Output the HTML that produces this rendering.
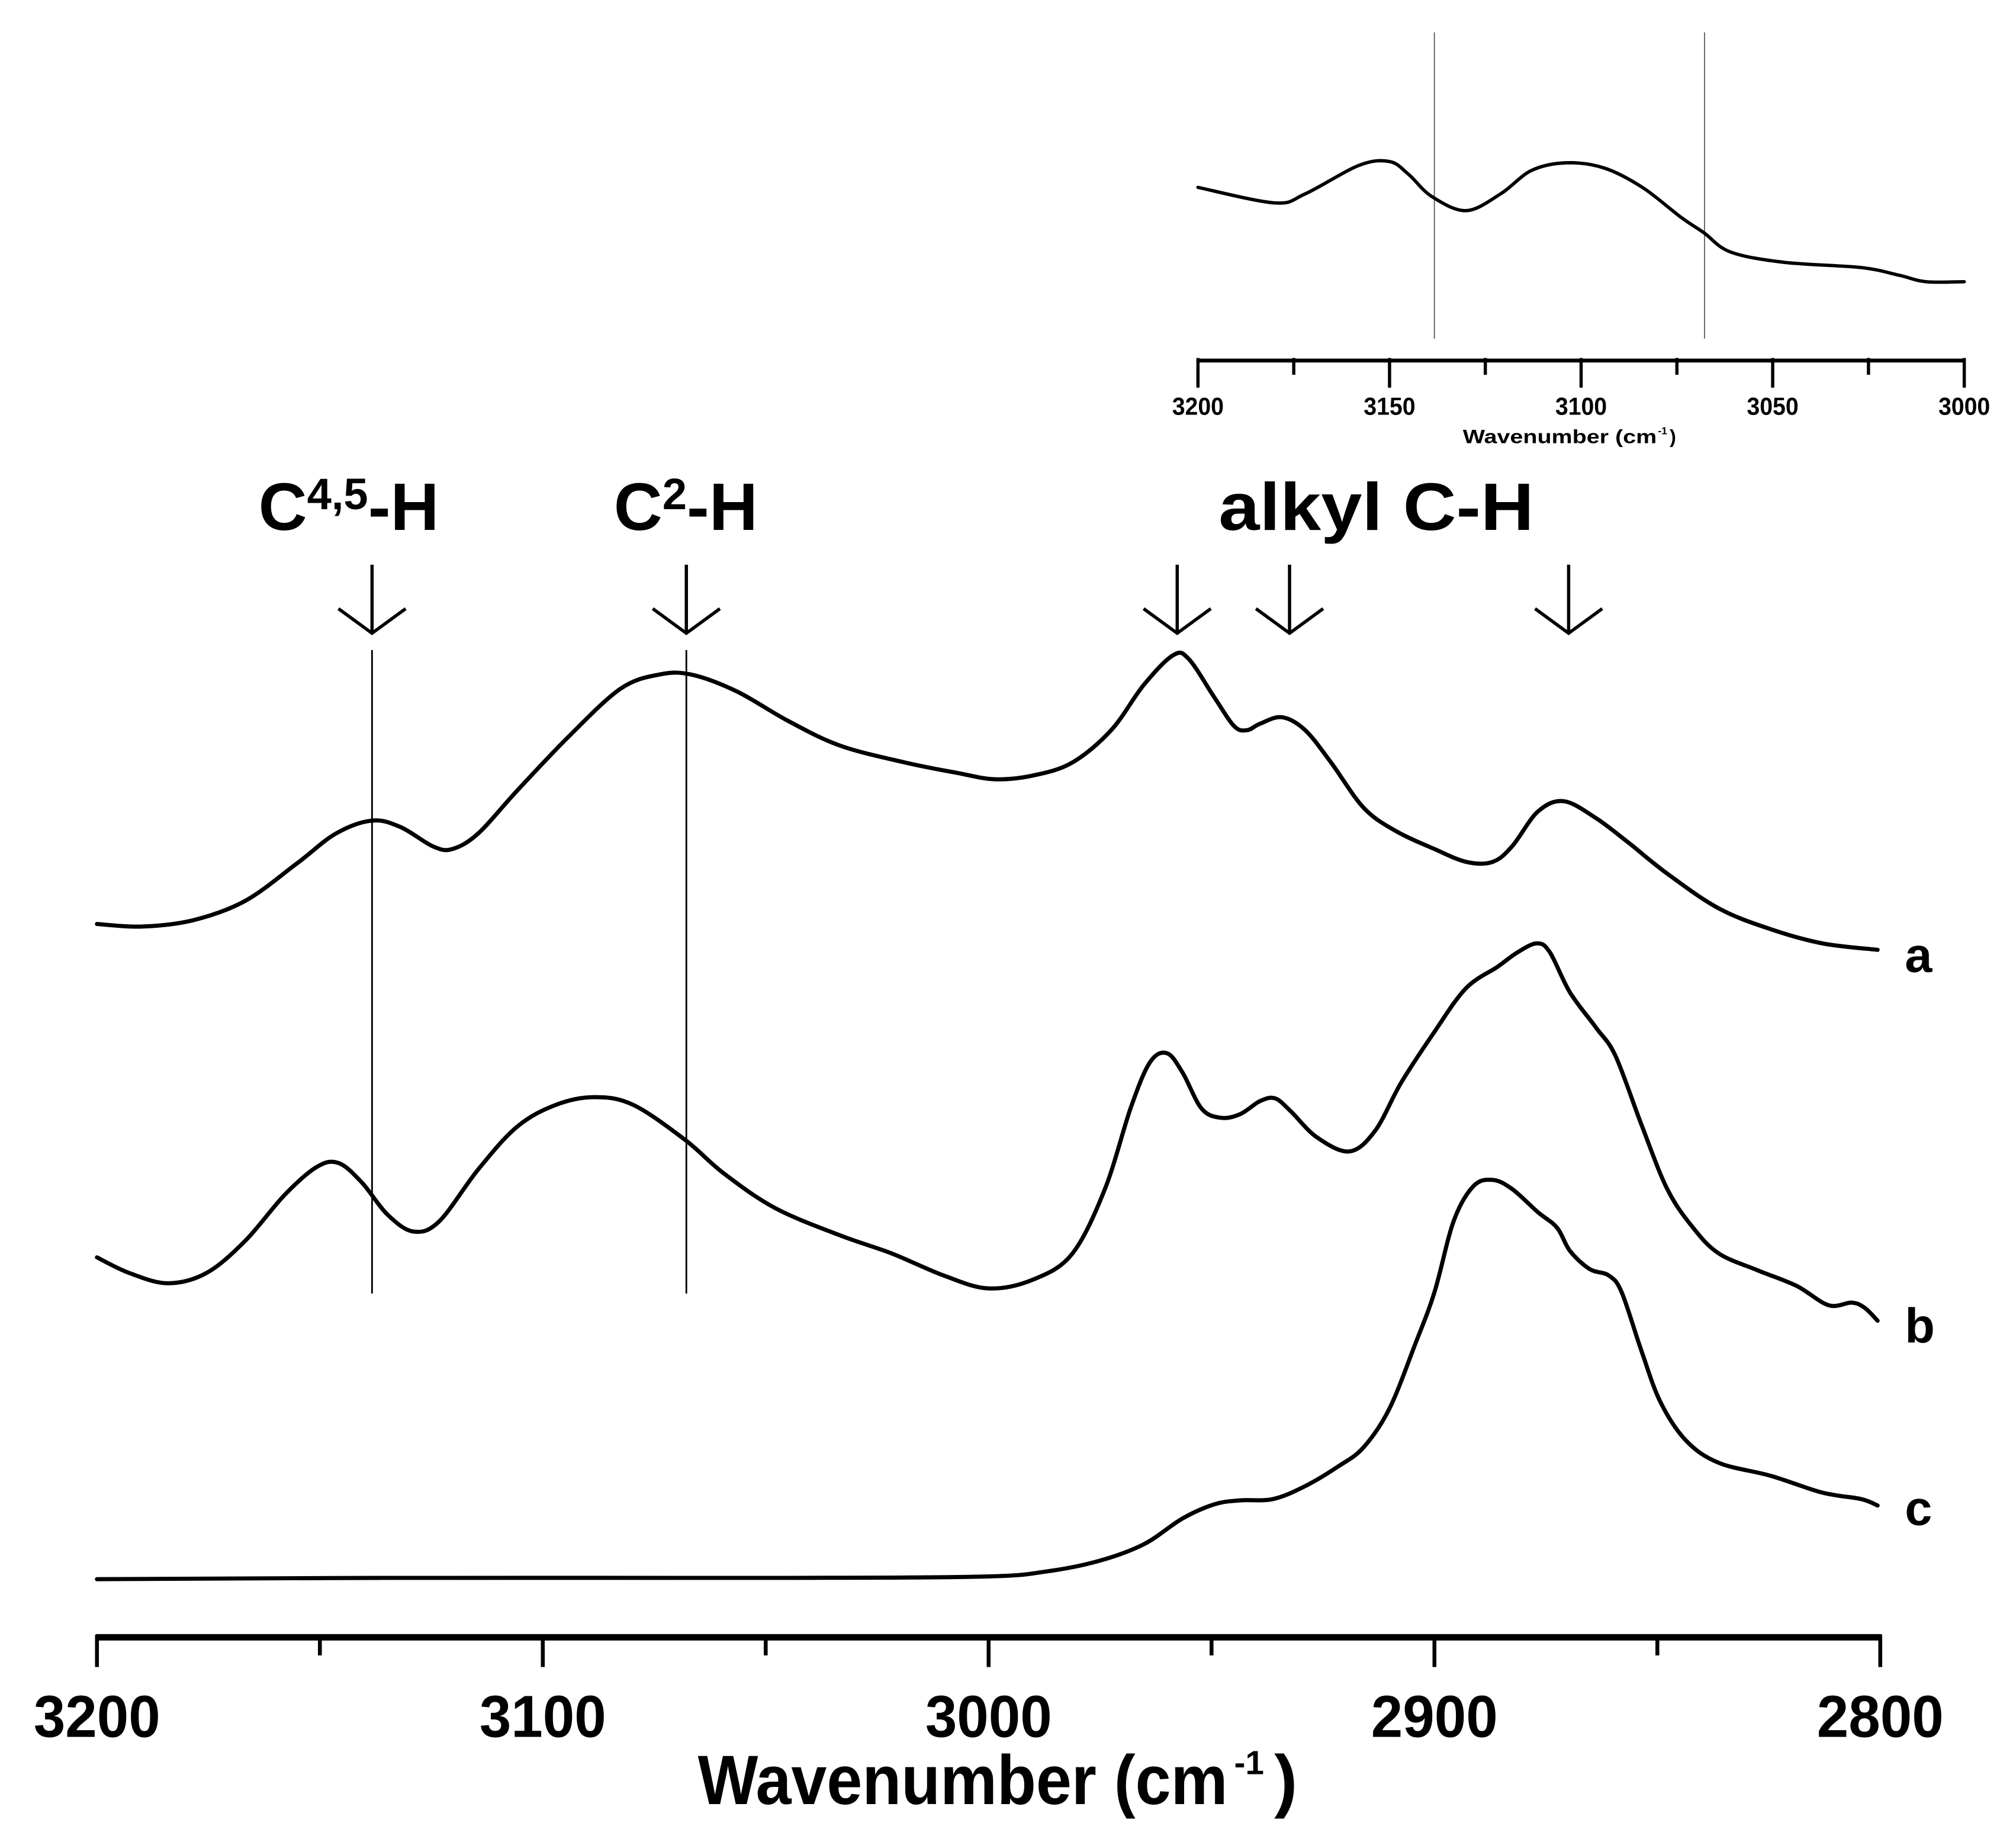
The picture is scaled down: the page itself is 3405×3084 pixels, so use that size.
<!DOCTYPE html>
<html><head><meta charset="utf-8">
<style>
html,body{margin:0;padding:0;background:#fff;}
svg{display:block;}
text{font-family:"Liberation Sans Narrow","Liberation Sans",sans-serif;font-weight:bold;fill:#000;}
</style></head>
<body>
<svg id="chart" xmlns="http://www.w3.org/2000/svg" width="3405" height="3084" viewBox="0 0 1560 1413">
<rect width="1560" height="1413" fill="#fff"/>
<g id="main"></g>
<g id="inset"></g>
</svg>
<script>
// ---- Main chart data (wavenumber, absorbance in arbitrary units) ----
const mainTicks = [3200, 3100, 3000, 2900, 2800];
const mainMinorTicks = [3150, 3050, 2950, 2850];
const aWn = [3200,3189.9,3178.3,3166.7,3155.1,3146.4,3138.3,3131.9,3124.6,3120.3,3114.5,3105.8,3094.2,3082.6,3073.9,3066.7,3056.5,3044.9,3033.3,3018.8,3007.2,2998.6,2989.9,2981.2,2972.5,2965.2,2958.6,2955.1,2949.3,2944.9,2942,2939.1,2934.2,2929,2923.2,2915.9,2908.7,2900,2892.8,2887,2882.6,2876.8,2871,2863.8,2856.5,2847.8,2836.2,2824.6,2813,2800.6];
const aVal = [5.50,5.48,5.53,5.68,5.97,6.20,6.30,6.25,6.10,6.08,6.20,6.53,6.95,7.32,7.43,7.43,7.30,7.07,6.88,6.75,6.67,6.62,6.65,6.75,7.00,7.35,7.58,7.55,7.25,7.03,7.00,7.05,7.10,7.00,6.75,6.40,6.22,6.08,5.98,5.98,6.10,6.37,6.45,6.32,6.13,5.89,5.62,5.46,5.35,5.30];
const bWn = [3200,3192.8,3184.1,3175.4,3166.7,3158,3150.7,3145.8,3140.6,3134.8,3129,3123.2,3114.5,3105.8,3097.1,3088.4,3079.7,3068.1,3059.4,3047.8,3033.3,3021.7,3010.1,3000,2989.9,2981.2,2973.9,2968.1,2963.8,2960,2956.5,2952.2,2947.8,2943.5,2939.1,2935.7,2932.2,2926.4,2919.1,2913.3,2907.5,2900.3,2893,2885.8,2881.4,2877,2874.1,2869.6,2863.8,2859.4,2853.6,2847.8,2842,2836.2,2827.5,2818.8,2811.6,2806.4,2803.5,2800.6];
const bVal = [2.92,2.80,2.72,2.80,3.05,3.40,3.62,3.65,3.50,3.25,3.12,3.20,3.60,3.93,4.10,4.16,4.10,3.83,3.57,3.30,3.09,2.95,2.78,2.68,2.75,2.95,3.45,4.08,4.43,4.50,4.35,4.07,4.00,4.03,4.13,4.15,4.05,3.85,3.74,3.90,4.27,4.65,5.00,5.17,5.28,5.35,5.28,4.97,4.70,4.48,3.95,3.45,3.15,2.95,2.82,2.70,2.55,2.57,2.53,2.43];
const cWn = [3200,3134.8,3047.8,3001.4,2987,2975.4,2965.2,2956.5,2949.3,2943.5,2936.2,2929,2921.7,2915.9,2910.1,2904.3,2900,2895.7,2891.3,2887,2882.6,2876.8,2872.5,2869.6,2865.2,2860.9,2858,2853.6,2849.3,2843.5,2836.2,2824.6,2813,2804.3,2800.6];
const cVal = [0.43,0.44,0.44,0.45,0.49,0.57,0.70,0.90,1.01,1.04,1.05,1.15,1.30,1.45,1.75,2.25,2.65,3.20,3.47,3.52,3.45,3.27,3.15,2.97,2.83,2.78,2.65,2.20,1.80,1.50,1.33,1.23,1.10,1.05,1.00];
const seriesLabels = ['a','b','c'];
// ---- Inset data ----
const insetTicks = [3200, 3150, 3100, 3050, 3000];
const insetMinorTicks = [3175, 3125, 3075, 3025];
const insetWn = [3200,3180,3172,3158,3150,3145,3139,3130,3121,3113,3104,3094,3084,3074,3068,3061,3047,3027,3017,3010,3000];
const insetVal = [1.33,1.21,1.28,1.50,1.53,1.43,1.26,1.15,1.28,1.46,1.52,1.48,1.33,1.10,0.98,0.83,0.75,0.71,0.65,0.60,0.60];
// ---- Annotations ----
const markerWn = [3138.3, 3067.8];
const arrowWn = [3138.3, 3067.8, 2957.7, 2932.5, 2869.9];

const NS = 'http://www.w3.org/2000/svg';
function mk(parent, tag, attrs, txt){
  const e = document.createElementNS(NS, tag);
  for (const k in attrs) e.setAttribute(k, attrs[k]);
  if (txt !== undefined) e.textContent = txt;
  parent.appendChild(e); return e;
}
function smooth(pts){
  let d = 'M' + pts[0][0].toFixed(2) + ',' + pts[0][1].toFixed(2);
  for (let i = 0; i < pts.length - 1; i++){
    const p0 = pts[Math.max(0,i-1)], p1 = pts[i], p2 = pts[i+1], p3 = pts[Math.min(pts.length-1,i+2)];
    const c1 = [p1[0]+(p2[0]-p0[0])/6, p1[1]+(p2[1]-p0[1])/6];
    const c2 = [p2[0]-(p3[0]-p1[0])/6, p2[1]-(p3[1]-p1[1])/6];
    d += ' C' + c1[0].toFixed(2)+','+c1[1].toFixed(2)+' '+c2[0].toFixed(2)+','+c2[1].toFixed(2)+' '+p2[0].toFixed(2)+','+p2[1].toFixed(2);
  }
  return d;
}
// main axis functions
const mx = wn => 75 + (3200 - wn) / 400 * 1380;
const my = v => 1265 - v * 100;
const main = document.getElementById('main');

const axisLine = mk(main, 'line', {x1:74, y1:1267, x2:1456, y2:1267, stroke:'#000', 'stroke-width':5});


mainTicks.forEach(t => {
  const l = mk(main, 'line', {x1:mx(t), y1:1265, x2:mx(t), y2:1290, stroke:'#000', 'stroke-width':3});
  
  
  const tx = mk(main, 'text', {x:mx(t), y:1344, 'text-anchor':'middle', 'font-size':46, textLength:98, lengthAdjust:'spacingAndGlyphs'}, String(t));
  
  
});
mainMinorTicks.forEach(t => {
  const l = mk(main, 'line', {x1:mx(t), y1:1265, x2:mx(t), y2:1281, stroke:'#000', 'stroke-width':3});
  
  
});
const xt = mk(main, 'text', {x:540, y:1396, 'font-size':54, textLength:410, lengthAdjust:'spacingAndGlyphs'}, 'Wavenumber (cm');


const xt2 = mk(main, 'text', {x:955, y:1373, 'font-size':26}, '-1');


const xt3 = mk(main, 'text', {x:986, y:1396, 'font-size':54}, ')');



markerWn.forEach(w => {
  const l = mk(main, 'line', {x1:mx(w), y1:503, x2:mx(w), y2:1001, stroke:'#000', 'stroke-width':1.3});
  
  
});
arrowWn.forEach(w => {
  const x = mx(w);
  const a = mk(main, 'path', {d:`M${x},437 L${x},490 M${x-26},471 L${x},490 L${x+26},471`, fill:'none', stroke:'#000', 'stroke-width':2.5});
  
  
});
const an1 = mk(main, 'text', {x:200, y:410, 'font-size':52}, 'C');


mk(an1, 'tspan', {dy:-16, 'font-size':34}, '4,5');
mk(an1, 'tspan', {dy:16, 'font-size':52}, '-H');
const an2 = mk(main, 'text', {x:475, y:410, 'font-size':52}, 'C');


mk(an2, 'tspan', {dy:-16, 'font-size':34}, '2');
mk(an2, 'tspan', {dy:16, 'font-size':52}, '-H');
const an3 = mk(main, 'text', {x:943, y:410, 'font-size':52, textLength:244, lengthAdjust:'spacingAndGlyphs'}, 'alkyl C-H');



const series = [[aWn,aVal],[bWn,bVal],[cWn,cVal]];
const labelY = [752, 1039, 1180];
series.forEach((s, i) => {
  const pts = s[0].map((w, j) => [mx(w), my(s[1][j])]);
  const p = mk(main, 'path', {d:smooth(pts), fill:'none', stroke:'#000', 'stroke-width':3.2, 'stroke-linejoin':'round', 'stroke-linecap':'round'});
  
  
  const t = mk(main, 'text', {x:1474, y:labelY[i], 'font-size':38}, seriesLabels[i]);
  
  
});

// inset
const ix = wn => 927 + (3200 - wn) / 200 * 593;
const iy = v => 278 - v * 100;
const inset = document.getElementById('inset');
const il = mk(inset, 'line', {x1:926, y1:279, x2:1521, y2:279, stroke:'#000', 'stroke-width':3});


insetTicks.forEach(t => {
  const l = mk(inset, 'line', {x1:ix(t), y1:277, x2:ix(t), y2:300, stroke:'#000', 'stroke-width':2.5});
  
  
  const tx = mk(inset, 'text', {x:ix(t), y:321, 'text-anchor':'middle', 'font-size':19, textLength:40, lengthAdjust:'spacingAndGlyphs'}, String(t));
  
  
});
insetMinorTicks.forEach(t => {
  const l = mk(inset, 'line', {x1:ix(t), y1:277, x2:ix(t), y2:290, stroke:'#000', 'stroke-width':2.5});
  
  
});
const it = mk(inset, 'text', {x:1132, y:343, 'font-size':15, textLength:150, lengthAdjust:'spacingAndGlyphs'}, 'Wavenumber (cm');


const it2 = mk(inset, 'text', {x:1283, y:336, 'font-size':8}, '-1');


const it3 = mk(inset, 'text', {x:1292, y:343, 'font-size':15}, ')');


markerWn.forEach(w => {
  const l = mk(inset, 'line', {x1:ix(w), y1:25, x2:ix(w), y2:262, stroke:'#555', 'stroke-width':0.8});
  
  
});
const ip = mk(inset, 'path', {d:smooth(insetWn.map((w,j)=>[ix(w), iy(insetVal[j])])), fill:'none', stroke:'#000', 'stroke-width':2.6, 'stroke-linecap':'round'});


</script>
</body></html>
